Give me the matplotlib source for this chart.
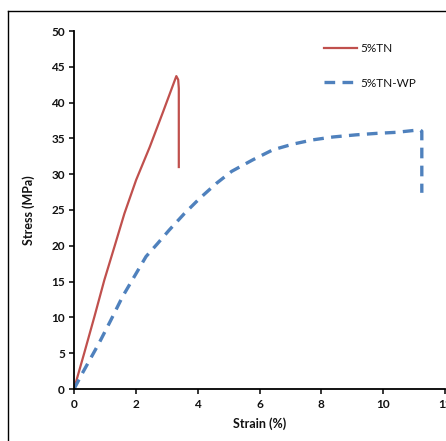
import matplotlib
matplotlib.use("Agg")
import matplotlib.pyplot as plt
from matplotlib.lines import Line2D

plt.rcParams['font.family'] = ['Lato', 'DejaVu Sans']

# Data
tn_strain = [0.0, 0.33, 0.66, 0.98, 1.31, 1.63, 2.01, 2.45, 2.88, 3.31, 3.37, 3.39, 3.39]
tn_stress = [0.0, 5.0, 10.1, 15.2, 19.9, 24.5, 29.2, 33.8, 38.7, 43.7, 43.2, 42.0, 31.0]

wp_strain = [0.0, 0.27, 0.81, 1.19, 1.57, 1.95, 2.33, 2.70, 3.08, 3.57, 4.06,
             4.60, 5.10, 5.78, 6.43, 7.08, 7.73, 8.38, 9.13, 9.78, 10.43, 11.19,
             11.25, 11.25]
wp_stress = [0.0, 2.2, 6.4, 9.6, 12.9, 15.7, 18.5, 20.3, 22.2, 24.5, 26.6,
             28.7, 30.4, 32.0, 33.4, 34.2, 34.8, 35.2, 35.5, 35.7, 35.85, 36.2,
             36.0, 27.4]

x_ticks = [0, 2, 4, 6, 8, 10, 12]
y_ticks = [0, 5, 10, 15, 20, 25, 30, 35, 40, 45, 50]

W, H = 446, 441
fig = plt.figure(figsize=(W / 100, H / 100), dpi=100)
ax = fig.add_axes([74 / W, 52 / H, (445 - 74) / W, (389 - 31) / H])

red = '#C0504D'
blue = '#4F81BD'

ax.plot(tn_strain, tn_stress, color=red, lw=1.6, label='5%TN')
ax.plot(wp_strain, wp_stress, color=blue, lw=2.4, linestyle=(0, (3.2, 2.2)),
        label='5%TN-WP')

ax.set_xlim(0, 12)
ax.set_ylim(0, 50)
ax.set_xticks(x_ticks)
ax.set_yticks(y_ticks)
for s in ['top', 'right']:
    ax.spines[s].set_visible(False)
for s in ['left', 'bottom']:
    ax.spines[s].set_linewidth(1.3)
    ax.spines[s].set_color('black')
ax.tick_params(direction='out', length=3.5, width=1.1, labelsize=8.5)
ax.tick_params(axis='x', pad=4)
ax.tick_params(axis='y', pad=3)
for lbl in ax.get_xticklabels() + ax.get_yticklabels():
    lbl.set_fontweight('bold')
    lbl.set_color('#111111')

ax.set_xlabel('Strain (%)', fontsize=9, fontweight='bold', labelpad=5, color='#111111')
ax.set_ylabel('Stress (MPa)', fontsize=9, fontweight='bold', labelpad=12, color='#111111')

leg = ax.legend(loc='upper left', bbox_to_anchor=((318 - 74) / (445 - 74), 1 - (37 - 31) / 358),
                frameon=False, fontsize=8.5, handlelength=2.8, handletextpad=0.3,
                labelspacing=2.0, borderpad=0.0)
for t in leg.get_texts():
    t.set_color('#111111')

# outer frame (partially cropped in the reference)
fig.add_artist(Line2D([8 / W, 8 / W], [0, 1 - 11 / H], transform=fig.transFigure,
                      color='black', lw=1.0))
fig.add_artist(Line2D([8 / W, 1.0], [1 - 11 / H, 1 - 11 / H], transform=fig.transFigure,
                      color='black', lw=1.0))

fig.savefig('out.png', dpi=100)
